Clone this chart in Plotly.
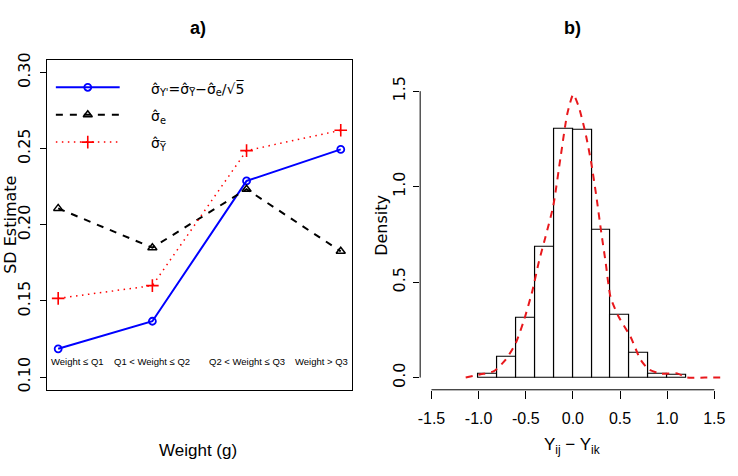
import plotly.graph_objects as go

W, H = 738, 476

# ---------------- data: panel a ----------------
groups = [1, 2, 3, 4]
group_labels = ["Weight ≤ Q1", "Q1 < Weight ≤ Q2", "Q2 < Weight ≤ Q3", "Weight > Q3"]
group_label_x = [1.2, 2, 3, 3.8]
sigma_ystar = [0.1186, 0.1367, 0.2288, 0.2495]
sigma_e = [0.2108, 0.1850, 0.2234, 0.1826]
sigma_ybar = [0.1517, 0.1601, 0.2487, 0.2621]
a_yticks = [0.10, 0.15, 0.20, 0.25, 0.30]
a_yticklabels = ["0.10", "0.15", "0.20", "0.25", "0.30"]

# ---------------- data: panel b ----------------
bin_edges = [-1.0, -0.8, -0.6, -0.4, -0.2, 0.0, 0.2, 0.4, 0.6, 0.8, 1.0, 1.2]
density_hist = [0.021, 0.108, 0.314, 0.687, 1.301, 1.296, 0.773, 0.329, 0.129, 0.022, 0.015]
kde_x = [-1.137, -0.978, -0.837, -0.713, -0.607, -0.519, -0.43, -0.36, -0.289, -0.208,
         -0.13, -0.06, 0.004, 0.064, 0.135, 0.195, 0.248, 0.30, 0.346, 0.40, 0.487,
         0.611, 0.717, 0.805, 0.929, 1.106, 1.212, 1.40, 1.62]
kde_y = [0.0, 0.017, 0.034, 0.094, 0.18, 0.30, 0.454, 0.608, 0.74, 0.90,
         1.157, 1.38, 1.483, 1.415, 1.277, 1.123, 0.952, 0.763, 0.608, 0.42, 0.317,
         0.214, 0.094, 0.043, 0.021, 0.022, 0.0, 0.0, 0.0]
b_xticks = [-1.5, -1.0, -0.5, 0.0, 0.5, 1.0, 1.5]
b_xticklabels = ["-1.5", "-1.0", "-0.5", "0.0", "0.5", "1.0", "1.5"]
b_yticks = [0.0, 0.5, 1.0, 1.5]
b_yticklabels = ["0.0", "0.5", "1.0", "1.5"]

NARROW = "Liberation Sans, Arial, sans-serif"
WIDE = "DejaVu Sans, Verdana, sans-serif"

def px_x(p):
    return p / W

def px_y(p):
    return 1 - p / H

# plot regions (pixels)
L_x0, L_x1 = 45, 351
R_x0, R_x1 = 419.3, 725.6
T_y0, T_y1 = 54, 391

BLUE_MK = dict(symbol="circle-open", size=7, color="#0000ff", line=dict(width=1.8))
BLACK_MK = dict(symbol="triangle-up-open", size=8, color="black", line=dict(width=1.5))
RED_MK = dict(symbol="cross-thin-open", size=9, color="#ff0000", line=dict(width=1.6, color="#ff0000"))
BLUE_LN = dict(color="#0000ff", width=2)
BLACK_LN = dict(color="black", width=2, dash="7px,7px")
RED_LN = dict(color="#ff0000", width=1.5, dash="1.5px,4.5px")

fig = go.Figure()

# ---- panel a lines ----
fig.add_trace(go.Scatter(x=groups, y=sigma_ystar, mode="lines+markers", line=BLUE_LN, marker=BLUE_MK,
                         xaxis="x", yaxis="y", showlegend=False))
fig.add_trace(go.Scatter(x=groups, y=sigma_e, mode="lines+markers", line=BLACK_LN, marker=BLACK_MK,
                         xaxis="x", yaxis="y", showlegend=False))
fig.add_trace(go.Scatter(x=groups, y=sigma_ybar, mode="lines+markers", line=RED_LN, marker=RED_MK,
                         xaxis="x", yaxis="y", showlegend=False))

# ---- legend (drawn manually on an overlay axis in [0,1]) ----
lg_x = [(54 - L_x0) / (L_x1 - L_x0), (86 - L_x0) / (L_x1 - L_x0), (118 - L_x0) / (L_x1 - L_x0)]
lg_rows = [82, 110, 138]
lg_specs = [(BLUE_LN, BLUE_MK), (BLACK_LN, BLACK_MK), (RED_LN, RED_MK)]
for row, (ln, mk) in zip(lg_rows, lg_specs):
    yy = (T_y1 - row) / (T_y1 - T_y0)
    fig.add_trace(go.Scatter(x=[lg_x[0], lg_x[2]], y=[yy, yy], mode="lines", line=ln,
                             xaxis="x3", yaxis="y3", showlegend=False, hoverinfo="skip"))
    fig.add_trace(go.Scatter(x=[lg_x[1]], y=[yy], mode="markers", marker=mk,
                             xaxis="x3", yaxis="y3", showlegend=False, hoverinfo="skip"))

legend_texts = [
    "σ\u0302<sub>Y'</sub>=σ\u0302<sub>Y\u0305</sub>−σ\u0302<sub>e</sub>/√5\u0305",
    "σ\u0302<sub>e</sub>",
    "σ\u0302<sub>Y\u0305</sub>",
]
for row, txt in zip(lg_rows, legend_texts):
    fig.add_annotation(x=px_x(147), y=px_y(row + 2), xref="paper", yref="paper", text=txt,
                       showarrow=False, xanchor="left", yanchor="middle",
                       font=dict(family=WIDE, size=14, color="black"))

# category labels
for gx, gl in zip(group_label_x, group_labels):
    fig.add_annotation(x=gx, y=0.11, xref="x", yref="y", text=gl, showarrow=False,
                       xanchor="center", yanchor="middle",
                       font=dict(family=NARROW, size=9.5, color="black"))

# ---- panel b ----
centers = [(a + b) / 2 for a, b in zip(bin_edges[:-1], bin_edges[1:])]
widths = [b - a for a, b in zip(bin_edges[:-1], bin_edges[1:])]
fig.add_trace(go.Bar(x=centers, y=density_hist, width=widths,
                     marker=dict(color="white", line=dict(color="black", width=1.2)),
                     xaxis="x2", yaxis="y2", showlegend=False))
fig.add_trace(go.Scatter(x=kde_x, y=kde_y, mode="lines",
                         line=dict(color="#e8181c", width=2, dash="7px,6px", shape="spline", smoothing=0.6),
                         xaxis="x2", yaxis="y2", showlegend=False, cliponaxis=True))

# axis lines for panel b (R style: only between extreme ticks)
fig.add_shape(type="line", xref="x2", yref="y2 domain", x0=b_xticks[0], x1=b_xticks[-1], y0=0, y1=0,
              line=dict(color="black", width=1))
fig.add_shape(type="line", xref="x2 domain", yref="y2", x0=0, x1=0, y0=b_yticks[0], y1=b_yticks[-1],
              line=dict(color="black", width=1))

def label(x, y, text, size, family=NARROW, angle=0):
    fig.add_annotation(x=px_x(x), y=px_y(y), xref="paper", yref="paper", text=text, showarrow=False,
                       xanchor="center", yanchor="middle", textangle=angle,
                       font=dict(family=family, size=size, color="black"))

label(197, 21, "<b>a)</b>", 18)
label(572, 21, "<b>b)</b>", 18)
label(197, 453, "Weight (g)", 17)
label(572, 448, "Y<sub>ij</sub> − Y<sub>ik</sub>", 17)
label(9, (T_y0 + T_y1) / 2, "SD Estimate", 16, WIDE, -90)
label(381, (T_y0 + T_y1) / 2, "Density", 16, WIDE, -90)

dom_y = [px_y(T_y1), px_y(T_y0)]
fig.update_layout(
    width=W, height=H, autosize=False,
    margin=dict(l=0, r=0, t=0, b=0),
    paper_bgcolor="white", plot_bgcolor="white",
    bargap=0,
    xaxis=dict(domain=[px_x(L_x0), px_x(L_x1)], range=[0.88, 4.12], showgrid=False, zeroline=False,
               showticklabels=False, ticks="", showline=True, mirror=True, linecolor="black", linewidth=1,
               anchor="y", fixedrange=True),
    yaxis=dict(domain=dom_y, range=[0.0917, 0.3083], showgrid=False, zeroline=False,
               tickmode="array", tickvals=a_yticks, ticktext=a_yticklabels, tickangle=-90,
               ticks="outside", ticklen=6, tickcolor="black", ticklabelstandoff=3,
               tickfont=dict(family=WIDE, size=16, color="black"),
               showline=True, mirror=True, linecolor="black", linewidth=1, anchor="x"),
    xaxis3=dict(domain=[px_x(L_x0), px_x(L_x1)], range=[0, 1], visible=False, overlaying="x", anchor="y3"),
    yaxis3=dict(domain=dom_y, range=[0, 1], visible=False, overlaying="y", anchor="x3"),
    xaxis2=dict(domain=[px_x(R_x0), px_x(R_x1)], range=[-1.62, 1.62], showgrid=False, zeroline=False,
                tickmode="array", tickvals=b_xticks, ticktext=b_xticklabels,
                ticks="outside", ticklen=8, tickcolor="black", ticklabelstandoff=6,
                tickfont=dict(family=NARROW, size=16, color="black"),
                showline=False, anchor="y2"),
    yaxis2=dict(domain=dom_y, range=[-0.064, 1.664], showgrid=False, zeroline=False,
                tickmode="array", tickvals=b_yticks, ticktext=b_yticklabels, tickangle=-90,
                ticks="outside", ticklen=6, tickcolor="black", ticklabelstandoff=2,
                tickfont=dict(family=WIDE, size=16, color="black"),
                showline=False, anchor="x2"),
)

fig.write_html("out.html")
